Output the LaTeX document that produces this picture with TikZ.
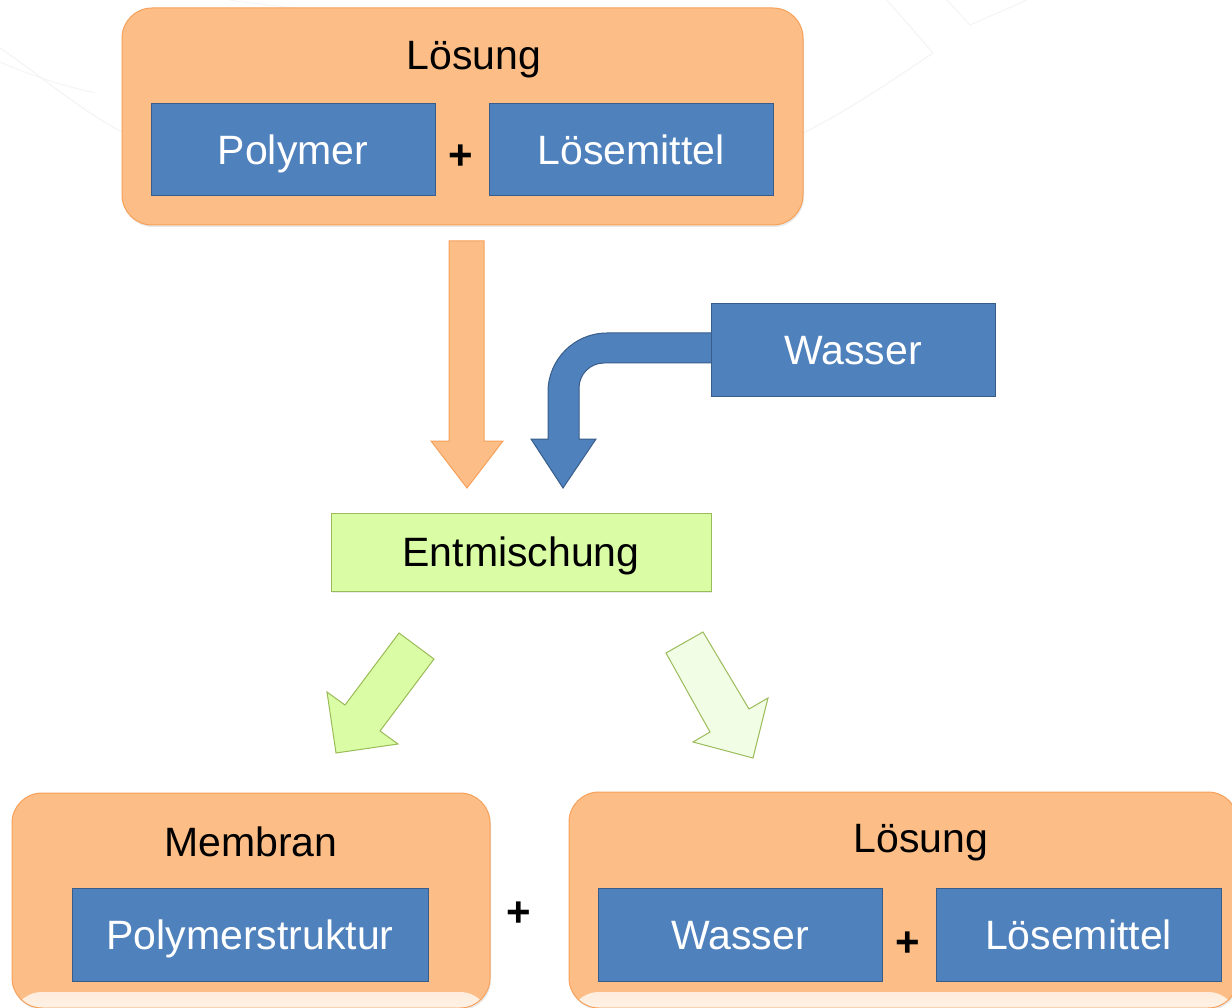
\documentclass[tikz,border=0pt]{standalone}
\usepackage{fontspec}
\setmainfont{Liberation Sans}
\usetikzlibrary{shadows,calc}
\definecolor{orfill}{RGB}{252,190,134}
\definecolor{ordraw}{RGB}{247,160,90}
\definecolor{blfill}{RGB}{79,129,189}
\definecolor{bldraw}{RGB}{56,93,138}
\definecolor{grfill}{RGB}{217,252,165}
\definecolor{grlight}{RGB}{242,253,229}
\definecolor{grdraw}{RGB}{155,187,89}
\definecolor{bgline}{RGB}{244,244,244}
\begin{document}
\begin{tikzpicture}[x=1pt,y=-1pt,
  outerbox/.style={draw=ordraw, fill=orfill, line width=1pt, rounded corners=30pt,
    drop shadow={opacity=0.18, shadow xshift=1pt, shadow yshift=-2pt}},
  fadebottom/.style={path picture={\shade[top color=orfill, bottom color=orfill!22!white]
    ($(path picture bounding box.south west)+(0pt,16pt)$) rectangle (path picture bounding box.south east);}},
  bigtext/.style={font=\fontsize{41}{49}\selectfont},
  bluebox/.style={bigtext, draw=bldraw, fill=blfill, line width=1pt, text=white,
    text height=29.4pt, text depth=0pt, inner sep=0pt},
  greenbox/.style={bigtext, draw=grdraw, fill=grfill, line width=1pt, text=black,
    text height=29.4pt, text depth=0pt, inner sep=0pt,
    drop shadow={opacity=0.15, shadow xshift=1pt, shadow yshift=-1.5pt}},
  titletext/.style={bigtext, anchor=base, inner sep=0pt},
  plussign/.style={font=\bfseries\fontsize{42}{50}\selectfont, inner sep=0pt},
  blockarrow/.style={line width=1pt, line join=miter},
]
\useasboundingbox (0,0) rectangle (1232,1008);
\clip (0,0) rectangle (1232,1008);

% faint background lines
\draw[bgline, line width=1.2pt] (0,48) .. controls (40,75) and (80,110) .. (122,132);
\draw[bgline, line width=1pt] (0,62) .. controls (30,75) and (60,85) .. (95,93);
\draw[bgline, line width=1pt] (230,0) .. controls (250,3) and (270,5) .. (290,8);
\draw[bgline, line width=1.2pt] (803,133) .. controls (850,110) and (900,75) .. (933,53) -- (887,0);
\draw[bgline, line width=1pt] (947,0) -- (970,25) -- (1027,0);

% top solution
\node[outerbox, minimum width=681pt, minimum height=217pt] (topsol) at (462.5,116.5) {};
\node[titletext] (toptitle) at (474,70) {Lösung};
\node[bluebox, minimum width=284pt, minimum height=92pt] (polymer) at (293,150) {Polymer};
\node[bluebox, minimum width=284pt, minimum height=92pt] (loesm) at (631,150) {Lösemittel};
\node[plussign] (plus1) at (461,157) {+};

% orange arrow down
\draw[blockarrow, draw=ordraw, fill=orfill]
  (449,241) -- (484,241) -- (484,441) -- (503,441) -- (467,488) -- (431,441) -- (449,441) -- cycle;

% blue bent arrow
\draw[blockarrow, draw=bldraw, fill=blfill]
  (720,333) -- (607,333) arc[start angle=270, end angle=180, radius=59]
  -- (548,439) -- (531,439) -- (563,488) -- (596,439) -- (579,439) -- (579,388)
  arc[start angle=180, end angle=270, radius=25] -- (720,363) -- cycle;
\node[bluebox, minimum width=284pt, minimum height=92pt] (wasser) at (853,350) {Wasser};

% Entmischung
\node[greenbox, minimum width=380pt, minimum height=78pt] (entm) at (521,552) {Entmischung};

% green arrows
\draw[blockarrow, draw=grdraw, fill=grfill]
  (399,633) -- (434,659) -- (380,731) -- (398,744) -- (336,753) -- (327,692) -- (345,705) -- cycle;
\draw[blockarrow, draw=grdraw, fill=grlight]
  (666,653) -- (703,632) -- (749,709) -- (768,698) -- (753,758) -- (693,742) -- (710,732) -- cycle;

% bottom left: Membran
\node[outerbox, fadebottom, minimum width=478pt, minimum height=215pt] (membran) at (251,900.5) {};
\node[titletext] (memtitle) at (251,856) {Membran};
\node[bluebox, minimum width=356pt, minimum height=93pt] (pstruct) at (250,934.5) {Polymerstruktur};

\node[plussign] (plus2) at (519,914) {+};

% bottom right: Lösung
\node[outerbox, fadebottom, minimum width=669pt, minimum height=216pt] (botsol) at (903.5,900) {};
\node[titletext] (bottitle) at (921,852) {Lösung};
\node[bluebox, minimum width=284pt, minimum height=93pt] (wasser2) at (740,934.5) {Wasser};
\node[bluebox, minimum width=285pt, minimum height=93pt] (loesm2) at (1078.5,934.5) {Lösemittel};
\node[plussign] (plus3) at (908,944) {+};
\end{tikzpicture}
\end{document}
